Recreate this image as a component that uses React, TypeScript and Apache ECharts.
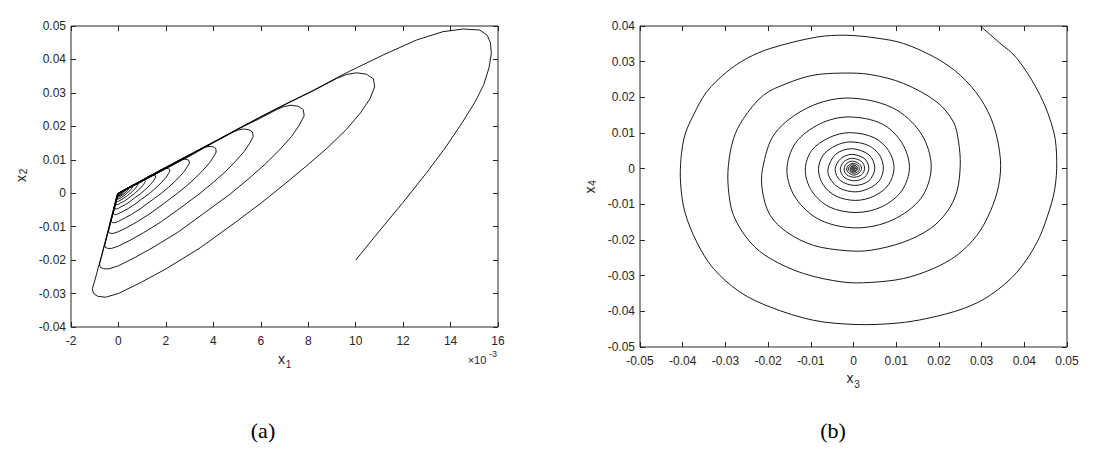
import React, { useEffect, useRef } from "react";
import * as echarts from "echarts";

// ---------- tick values ----------
const X1_TICKS = [-2, 0, 2, 4, 6, 8, 10, 12, 14, 16]; // ×10^-3
const X2_TICKS = [-0.04, -0.03, -0.02, -0.01, 0, 0.01, 0.02, 0.03, 0.04, 0.05];
const X3_TICKS = [-0.05, -0.04, -0.03, -0.02, -0.01, 0, 0.01, 0.02, 0.03, 0.04, 0.05];
const X4_TICKS = [-0.05, -0.04, -0.03, -0.02, -0.01, 0, 0.01, 0.02, 0.03, 0.04];

// ---------- panel (a): x1 (×10^-3), x2 ----------
const A_START = [
  [10.0, -0.02], [11.0, -0.0113], [12.0, -0.0027], [13.0, 0.0062], [13.8, 0.0138], [14.5, 0.0212],
  [15.05, 0.0275], [15.4, 0.0325], [15.62, 0.0375], [15.72, 0.0418],
  [15.68, 0.045], [15.55, 0.0472], [15.23, 0.0488], [14.53, 0.0491], [13.68, 0.0483], [12.56, 0.0458],
  [11.15, 0.0413], [9.75, 0.0365],
  [9.2, 0.0345], [8.2, 0.0307], [7.08, 0.0268], [6.0, 0.0229], [4.97, 0.019], [4.0, 0.0152], [3.0, 0.0112],
  [2.2, 0.0082], [1.46, 0.0054], [0.7, 0.0025], [0.15, 0.0006], [-0.05, -0.0003],
  [-0.55, -0.0143], [-1.0, -0.0262], [-1.1, -0.0285], [-1.05, -0.03], [-0.88, -0.0308], [-0.55, -0.0311],
  [0.0, -0.03], [0.97, -0.0266], [2.01, -0.0226], [3.45, -0.0163], [4.97, -0.0085], [6.0, -0.003],
  [7.0, 0.0027], [7.9, 0.008], [8.8, 0.0135], [9.6, 0.019], [10.2, 0.024], [10.6, 0.0282], [10.8, 0.0318],
];
const A_CYCLE2 = [
  [10.75, 0.0342], [10.45, 0.0356], [10.03, 0.036], [9.61, 0.0355], [9.2, 0.0343], [8.2, 0.0306],
  [7.08, 0.0267], [6.0, 0.0228], [4.97, 0.0189], [4.0, 0.0151], [3.0, 0.0111], [2.2, 0.0081],
  [1.46, 0.0053], [0.7, 0.0024], [0.15, 0.0005], [-0.05, -0.0004], [-0.4, -0.0103], [-0.72, -0.0192],
  [-0.8, -0.0212], [-0.76, -0.0222], [-0.62, -0.0226], [-0.4, -0.0226], [0.0, -0.0217], [0.7, -0.0192],
  [1.46, -0.0162], [2.5, -0.0117], [3.6, -0.006], [4.7, -0.0003], [5.5, 0.0044], [6.2, 0.0088],
  [6.8, 0.013], [7.3, 0.017], [7.62, 0.0203], [7.83, 0.0232],
];
const A_CYCLE3 = [
  [7.79, 0.025], [7.58, 0.026], [7.27, 0.0263], [6.97, 0.0259], [6.67, 0.025], [5.95, 0.0223],
  [5.13, 0.0195], [4.35, 0.0166], [3.6, 0.0138], [2.9, 0.011], [2.18, 0.0081], [1.6, 0.0059],
  [1.06, 0.0039], [0.51, 0.0018], [0.11, 0.0004], [-0.04, -0.0003], [-0.29, -0.0075], [-0.52, -0.014],
  [-0.58, -0.0155], [-0.55, -0.0162], [-0.45, -0.0165], [-0.29, -0.0165], [0.0, -0.0158], [0.51, -0.014],
  [1.06, -0.0118], [1.81, -0.0085], [2.61, -0.0044], [3.41, -0.0002], [3.99, 0.0032], [4.5, 0.0064],
  [4.93, 0.0095], [5.29, 0.0124], [5.52, 0.0148], [5.68, 0.0169],
];
const A_CYCLE4 = [
  [5.65, 0.0183], [5.5, 0.019], [5.27, 0.0192], [5.05, 0.0189], [4.84, 0.0183], [4.31, 0.0163],
  [3.72, 0.0142], [3.15, 0.0121], [2.61, 0.0101], [2.1, 0.008], [1.58, 0.0059], [1.16, 0.0043],
  [0.77, 0.0028], [0.37, 0.0013], [0.08, 0.0003], [-0.03, -0.0002], [-0.21, -0.0055], [-0.38, -0.0102],
  [-0.42, -0.0113], [-0.4, -0.0118], [-0.33, -0.012], [-0.21, -0.012], [0.0, -0.0115], [0.37, -0.0102],
  [0.77, -0.0086], [1.31, -0.0062], [1.89, -0.0032], [2.47, -0.0001], [2.89, 0.0023], [3.26, 0.0047],
  [3.57, 0.0069], [3.84, 0.0091], [4.0, 0.0108], [4.12, 0.0123],
];
const A_CYCLE5 = [
  [4.1, 0.0134], [3.99, 0.0139], [3.82, 0.014], [3.66, 0.0138], [3.51, 0.0134], [3.12, 0.0119],
  [2.7, 0.0104], [2.28, 0.0088], [1.89, 0.0074], [1.52, 0.0058], [1.15, 0.0043], [0.84, 0.0031],
  [0.56, 0.002], [0.27, 0.0009], [0.06, 0.0002], [-0.02, -0.0001], [-0.15, -0.004], [-0.28, -0.0074],
  [-0.3, -0.0082], [-0.29, -0.0086], [-0.24, -0.0088], [-0.15, -0.0088], [0.0, -0.0084], [0.27, -0.0074],
  [0.56, -0.0063], [0.95, -0.0045], [1.37, -0.0023], [1.79, -0.0001], [2.1, 0.0017], [2.36, 0.0034],
  [2.59, 0.005], [2.78, 0.0066], [2.9, 0.0079], [2.99, 0.009],
];
const A_CYCLE6 = [
  [2.97, 0.0098], [2.89, 0.0101], [2.77, 0.0102], [2.65, 0.0101], [2.54, 0.0098], [2.26, 0.0087],
  [1.96, 0.0076], [1.65, 0.0064], [1.37, 0.0054], [1.1, 0.0042], [0.83, 0.0031], [0.61, 0.0023],
  [0.41, 0.0015], [0.2, 0.0007], [0.04, 0.0001], [-0.01, -0.0001], [-0.11, -0.0029], [-0.2, -0.0054],
  [-0.22, -0.006], [-0.21, -0.0063], [-0.17, -0.0064], [-0.11, -0.0064], [0.0, -0.0061], [0.2, -0.0054],
  [0.41, -0.0046], [0.69, -0.0033], [0.99, -0.0017], [1.3, -0.0001], [1.52, 0.0012], [1.71, 0.0025],
  [1.88, 0.0037], [2.02, 0.0048], [2.1, 0.0058], [2.17, 0.0066],
];
const A_CYCLE7 = [
  [2.15, 0.0072], [2.1, 0.0074], [2.01, 0.0074], [1.84, 0.0072], [1.64, 0.0064], [1.42, 0.0055],
  [1.2, 0.0047], [0.99, 0.0039], [0.8, 0.0031], [0.6, 0.0023], [0.44, 0.0017], [0.3, 0.0011],
  [0.15, 0.0005], [0.03, 0.0001], [-0.01, -0.0001], [-0.08, -0.0021], [-0.15, -0.0039], [-0.16, -0.0044],
  [-0.15, -0.0046], [-0.08, -0.0047], [0.0, -0.0045], [0.15, -0.0039], [0.3, -0.0034], [0.5, -0.0024],
  [0.72, -0.0012], [0.94, -0.0001], [1.1, 0.0009], [1.24, 0.0018], [1.36, 0.0027], [1.46, 0.0035],
  [1.52, 0.0042], [1.57, 0.0048],
];
const A_CYCLE8 = [
  [1.56, 0.0053], [1.52, 0.0054], [1.46, 0.0054], [1.33, 0.0053], [1.19, 0.0047], [1.03, 0.004],
  [0.87, 0.0034], [0.72, 0.0028], [0.58, 0.0023], [0.44, 0.0017], [0.32, 0.0012], [0.22, 0.0008],
  [0.11, 0.0004], [0.02, 0.0001], [-0.01, -0.0001], [-0.06, -0.0015], [-0.11, -0.0028], [-0.12, -0.0032],
  [-0.11, -0.0034], [-0.06, -0.0034], [0.0, -0.0033], [0.11, -0.0028], [0.22, -0.0025], [0.36, -0.0018],
  [0.52, -0.0009], [0.68, -0.0001], [0.8, 0.0007], [0.9, 0.0013], [0.99, 0.002], [1.06, 0.0026],
  [1.1, 0.0031], [1.14, 0.0035],
];
const A_TAIL = [
  [1.1, 0.0039], [1.0, 0.0039], [0.86, 0.0034], [0.63, 0.0025], [0.42, 0.0017], [0.23, 0.0009],
  [0.08, 0.0003], [-0.01, -0.0001], [-0.08, -0.002], [-0.09, -0.0024], [-0.05, -0.0025], [0.0, -0.0024],
  [0.16, -0.0018], [0.38, -0.0007], [0.58, 0.0005], [0.72, 0.0015], [0.8, 0.0023], [0.83, 0.0026],
  [0.78, 0.0028], [0.62, 0.0025], [0.3, 0.0012], [0.06, 0.0002], [-0.01, -0.0001], [-0.06, -0.0015],
  [-0.06, -0.0018], [0.0, -0.0017], [0.12, -0.0013], [0.28, -0.0005], [0.42, 0.0004], [0.55, 0.0013],
  [0.6, 0.0019], [0.56, 0.002], [0.45, 0.0018], [0.22, 0.0009], [0.04, 0.0002], [-0.01, -0.0001],
  [-0.04, -0.0011], [-0.04, -0.0013], [0.0, -0.0012], [0.09, -0.0009], [0.2, -0.0004], [0.31, 0.0003],
  [0.4, 0.0009], [0.44, 0.0014], [0.4, 0.0015], [0.33, 0.0013], [0.16, 0.0007], [0.03, 0.0001],
  [-0.03, -0.0008], [-0.03, -0.001], [0.0, -0.0009], [0.07, -0.0007], [0.15, -0.0003], [0.23, 0.0002],
  [0.29, 0.0007], [0.32, 0.001], [0.24, 0.0009], [0.12, 0.0005], [0.02, 0.0001], [-0.02, -0.0006],
  [-0.02, -0.0007], [0.05, -0.0005], [0.11, -0.0002], [0.17, 0.0002], [0.21, 0.0005], [0.23, 0.0007],
  [0.17, 0.0006], [0.08, 0.0003], [0.0, 0.0], [-0.015, -0.0004], [0.03, -0.0004], [0.08, -0.0001],
  [0.14, 0.0003], [0.17, 0.0005], [0.1, 0.0003], [0.0, 0.0],
];

// ---------- panel (b): x3, x4 ----------
const B_OUTER = [
  [0.0297, 0.04], [0.034, 0.0355], [0.0383, 0.0309], [0.0437, 0.0206], [0.0469, 0.0103], [0.0476, 0.002],
  [0.0471, -0.006], [0.0455, -0.013], [0.043, -0.0206], [0.0383, -0.029], [0.032, -0.0355], [0.0258, -0.0392],
  [0.0172, -0.042], [0.0102, -0.0433], [0.0008, -0.0437], [-0.0094, -0.0425], [-0.0195, -0.0388],
  [-0.0266, -0.0346], [-0.0328, -0.028], [-0.0367, -0.0206], [-0.0395, -0.0121], [-0.0405, -0.004],
  [-0.0404, 0.0028], [-0.0395, 0.0094], [-0.0375, 0.015], [-0.0344, 0.0215], [-0.0297, 0.0271],
  [-0.025, 0.0309], [-0.0195, 0.0337], [-0.0086, 0.0369], [-0.0016, 0.0374], [0.0055, 0.0366],
  [0.0117, 0.0351], [0.0195, 0.0309], [0.025, 0.0262], [0.0297, 0.0197], [0.0328, 0.0122], [0.0344, 0.0028],
  [0.034, -0.0047], [0.032, -0.0121], [0.0289, -0.0187], [0.0242, -0.0243], [0.0187, -0.028],
  [0.0117, -0.0308], [0.0039, -0.0319], [-0.0024, -0.0318], [-0.0117, -0.0294], [-0.0195, -0.0252],
  [-0.0242, -0.0206], [-0.0281, -0.0131], [-0.0293, -0.0056], [-0.0293, 0.0009], [-0.0281, 0.0084],
  [-0.0258, 0.014], [-0.0211, 0.0206], [-0.0156, 0.0239], [-0.0094, 0.0262], [-0.0024, 0.0268],
  [0.0039, 0.0264], [0.0117, 0.0239], [0.0195, 0.0187], [0.0234, 0.0131], [0.0246, 0.0075], [0.025, 0.001],
  [0.0242, -0.0065], [0.0219, -0.0121], [0.018, -0.0168], [0.0117, -0.0206], [0.0039, -0.0229],
  [-0.0016, -0.023], [-0.0094, -0.0215], [-0.0156, -0.0178], [-0.0195, -0.0131], [-0.0213, -0.0065],
  [-0.0213, 0.0],
];
const B_MID = [
  [-0.0184, 0.0099], [-0.0107, 0.0171], [-0.0015, 0.0198], [0.0091, 0.0171], [0.0158, 0.0099], [0.0182, 0.0005],
  [0.0158, -0.0083], [0.0091, -0.0144], [0.0008, -0.0166], [-0.0078, -0.0144], [-0.0135, -0.0083],
  [-0.0156, -0.0005], [-0.0135, 0.0073], [-0.0078, 0.0126], [-0.0012, 0.0145], [0.0066, 0.0126], [0.0113, 0.0073],
  [0.0131, 0.0004], [0.0113, -0.0062], [0.0066, -0.0107], [0.0006, -0.0123], [-0.0057, -0.0107], [-0.0098, -0.0062],
  [-0.0113, -0.0004], [-0.0098, 0.0051], [-0.0057, 0.0087], [-0.0009, 0.0101], [0.0048, 0.0087], [0.0082, 0.0051],
  [0.0095, 0.0003], [0.0082, -0.0045], [0.0048, -0.0077], [0.0005, -0.0089], [-0.0041, -0.0077], [-0.0071, -0.0045],
  [-0.0082, -0.0003], [-0.0071, 0.0038], [-0.0041, 0.0065], [-0.0007, 0.0075], [0.0035, 0.0065], [0.0061, 0.0038],
  [0.007, 0.0002], [0.0061, -0.0033], [0.0035, -0.0056], [0.0004, -0.0065], [-0.003, -0.0056], [-0.0052, -0.0033],
];
const B_INNER = [
  [-0.006, -0.0003], [-0.0042, 0.004], [-0.0005, 0.0056], [0.0036, 0.0039], [0.005, 0.0002], [0.0036, -0.0034], [0.0003, -0.0047], [-0.0031, -0.0033],
  [-0.0043, -0.0002], [-0.003, 0.0028], [-0.0004, 0.004], [0.0026, 0.0028], [0.0036, 0.0001], [0.0026, -0.0024], [0.0002, -0.0034], [-0.0022, -0.0024],
  [-0.0031, -0.0002], [-0.0022, 0.002], [-0.0003, 0.0029], [0.0019, 0.002], [0.0026, 0.0001], [0.0019, -0.0017], [0.0002, -0.0024], [-0.0016, -0.0017],
  [-0.0022, -0.0001], [-0.0016, 0.0015], [-0.0002, 0.0021], [0.0013, 0.0014], [0.0019, 0.0001], [0.0013, -0.0012], [0.0001, -0.0018], [-0.0011, -0.0012],
  [-0.0016, -0.0001], [-0.0011, 0.001], [-0.0001, 0.0015], [0.001, 0.001], [0.0014, 0.0], [0.001, -0.0009], [0.0001, -0.0013], [-0.0008, -0.0009],
  [-0.0012, 0.0], [-0.0008, 0.0008], [0.0, 0.0011], [0.0007, 0.0007], [0.001, 0.0], [0.0007, -0.0006], [0.0, -0.0009], [-0.0006, -0.0006],
  [-0.0008, 0.0], [-0.0006, 0.0005], [0.0, 0.0008], [0.0005, 0.0005], [0.0007, 0.0], [0.0005, -0.0005], [0.0, -0.0007], [-0.0004, -0.0004],
  [-0.0006, 0.0], [-0.0004, 0.0004], [0.0, 0.0005], [0.0004, 0.0003], [0.0005, 0.0], [0.0003, -0.0003], [0.0, -0.0004], [-0.0003, -0.0003],
  [-0.0004, 0.0], [0.0, 0.0003], [0.0003, 0.0], [0.0, -0.0002], [-0.0002, 0.0], [0.0, 0.0001], [0.0, 0.0],
];

const TRAJ_A = [
  ...A_START, ...A_CYCLE2, ...A_CYCLE3, ...A_CYCLE4, ...A_CYCLE5, ...A_CYCLE6, ...A_CYCLE7, ...A_CYCLE8, ...A_TAIL,
];
const TRAJ_B = [...B_OUTER, ...B_MID, ...B_INNER];

const FONT = "Liberation Sans, Arial, Helvetica, sans-serif";
const SERIF = "Liberation Serif, Times New Roman, serif";
const AX = "#262626";

function fmt(v: number) {
  return String(Number(v.toFixed(3)));
}

function axisPair(
  dim: "x" | "y",
  gridIndex: number,
  ticks: number[],
  step: number,
  margin: number
) {
  const base = {
    type: "value",
    gridIndex,
    min: ticks[0],
    max: ticks[ticks.length - 1],
    interval: step,
    axisLine: { show: false, onZero: false },
    splitLine: { show: false },
    axisTick: { show: true, inside: true, length: 5, lineStyle: { color: AX, width: 1 } },
  };
  const main = {
    ...base,
    position: dim === "x" ? "bottom" : "left",
    axisLabel: {
      show: true,
      margin,
      color: AX,
      fontSize: 12,
      fontFamily: FONT,
      formatter: (v: number) => fmt(v),
    },
  };
  const mirror = {
    ...base,
    position: dim === "x" ? "top" : "right",
    axisLabel: { show: false },
  };
  return [main, mirror];
}

function txt(x: number, y: number, text: string, size: number, extra: any = {}) {
  const { fontFamily, fill, ...rest } = extra;
  return {
    type: "text",
    x,
    y,
    silent: true,
    ...rest,
    style: {
      text,
      fontSize: size,
      fontFamily: fontFamily || FONT,
      fill: fill || AX,
      align: "center",
      verticalAlign: "middle",
    },
  };
}

export default function App() {
  const ref = useRef<HTMLDivElement>(null);
  useEffect(() => {
    if (!ref.current) return;
    const chart = echarts.init(ref.current, undefined, { renderer: "svg" });
    const [xa, xaTop] = axisPair("x", 0, X1_TICKS, 2, 8);
    const [ya, yaRight] = axisPair("y", 0, X2_TICKS, 0.01, 5);
    const [xb, xbTop] = axisPair("x", 1, X3_TICKS, 0.01, 8);
    const [yb, ybRight] = axisPair("y", 1, X4_TICKS, 0.01, 5);
    const gridStyle = { show: true, borderColor: AX, borderWidth: 1, backgroundColor: "transparent", containLabel: false };
    chart.setOption({
      animation: false,
      backgroundColor: "#ffffff",
      grid: [
        { ...gridStyle, left: 71, top: 26, width: 427, height: 301 },
        { ...gridStyle, left: 640, top: 26, width: 427, height: 321 },
      ],
      xAxis: [xa, xaTop, xb, xbTop],
      yAxis: [ya, yaRight, yb, ybRight],
      series: [
        {
          type: "line",
          xAxisIndex: 0,
          yAxisIndex: 0,
          data: TRAJ_A,
          symbol: "none",
          showSymbol: false,
          silent: true,
          lineStyle: { color: "#000", width: 0.9 },
        },
        {
          type: "custom",
          coordinateSystem: "cartesian2d",
          xAxisIndex: 2,
          yAxisIndex: 2,
          data: TRAJ_B,
          silent: true,
          renderItem: (params: any, api: any) => {
            if (params.dataIndex !== 0) return null;
            const pts = TRAJ_B.map((p) => api.coord(p));
            return {
              type: "polyline",
              silent: true,
              shape: { points: pts, smooth: 0.33 },
              style: { stroke: "#000", lineWidth: 0.9, fill: "none" },
            };
          },
        },
      ],
      graphic: [
        txt(281.5, 358.5, "x", 14),
        txt(288.5, 364.5, "1", 10),
        txt(477, 360, "×10", 11),
        txt(493, 354, "-3", 9),
        txt(21, 178.5, "x", 14, { rotation: Math.PI / 2 }),
        txt(23.5, 171.5, "2", 10, { rotation: Math.PI / 2 }),
        txt(850, 378, "x", 14),
        txt(857, 384, "3", 10),
        txt(589.5, 190, "x", 14, { rotation: Math.PI / 2 }),
        txt(592, 183, "4", 10, { rotation: Math.PI / 2 }),
        txt(263, 430, "(a)", 22, { fontFamily: SERIF, fill: "#000" }),
        txt(833, 430, "(b)", 22, { fontFamily: SERIF, fill: "#000" }),
      ],
    });
    return () => chart.dispose();
  }, []);
  return (
    <div
      ref={ref}
      style={{ position: "absolute", left: 0, top: 0, width: 1098, height: 449 }}
    />
  );
}
